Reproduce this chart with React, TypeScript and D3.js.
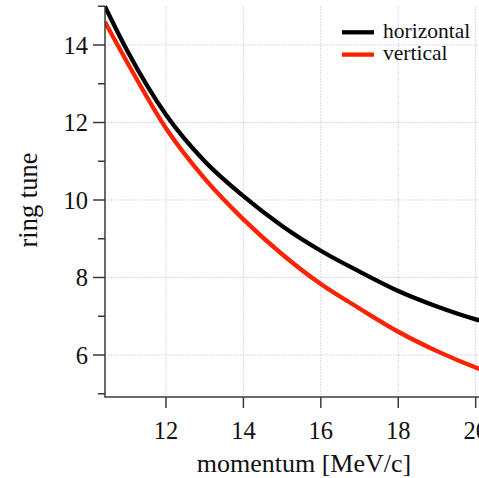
import React from "react";
import * as d3 from "d3";

const momentum = [10.42, 11, 12, 13, 14, 15, 16, 17, 18, 19, 20, 20.3];
const horizontalTune = [15.0, 13.85, 12.2, 11.0, 10.1, 9.33, 8.69, 8.15, 7.65, 7.25, 6.92, 6.84];
const verticalTune = [14.6, 13.55, 11.85, 10.55, 9.5, 8.6, 7.83, 7.2, 6.6, 6.1, 5.68, 5.57];
const xTicks = [12, 14, 16, 18, 20];
const yTicks = [6, 8, 10, 12, 14];
const yMinorTicks = [5, 7, 9, 11, 13, 15];
const seriesNames = ["horizontal", "vertical"];
const seriesColors = ["#000000", "#ff2200"];

const W = 479;
const H = 478;

export default function App() {
  const x = d3.scaleLinear().domain([10.42, 20.3]).range([104.8, 487.3]);
  const y = d3.scaleLinear().domain([4.916, 15.0]).range([397, 6.25]);
  const line = d3
    .line<[number, number]>()
    .x((d) => x(d[0]))
    .y((d) => y(d[1]))
    .curve(d3.curveMonotoneX);
  const series = [horizontalTune, verticalTune];
  const font = "'Liberation Serif', 'Times New Roman', serif";
  const gridColor = "#c9c9ee";
  const axisColor = "#3a3a3a";
  return (
    <svg
      width={W}
      height={H}
      style={{ position: "absolute", left: 0, top: 0, background: "#fff" }}
      fontFamily={font}
    >
      <defs>
        <clipPath id="plotclip">
          <rect x={105} y={0} width={W} height={397} />
        </clipPath>
      </defs>
      {xTicks.map((t) => (
        <line
          key={"gx" + t}
          x1={x(t)}
          x2={x(t)}
          y1={y(15)}
          y2={y(4.916)}
          stroke={gridColor}
          strokeWidth={1}
          strokeDasharray="1.5,1.5"
        />
      ))}
      {yTicks.map((t) => (
        <line
          key={"gy" + t}
          x1={x(10.42)}
          x2={W}
          y1={y(t)}
          y2={y(t)}
          stroke={gridColor}
          strokeWidth={1}
          strokeDasharray="1.5,1.5"
        />
      ))}
      <g clipPath="url(#plotclip)">
        {series.map((s, i) => (
          <path
            key={"s" + i}
            d={line(momentum.map((m, j) => [m, s[j]] as [number, number])) || ""}
            fill="none"
            stroke={seriesColors[i]}
            strokeWidth={4.3}
          />
        ))}
      </g>
      <line x1={105} x2={105} y1={y(15)} y2={397} stroke={axisColor} strokeWidth={1.5} />
      {yTicks.map((t) => (
        <g key={"yt" + t}>
          <line x1={93} x2={105} y1={y(t)} y2={y(t)} stroke={axisColor} strokeWidth={1.5} />
          <text x={88} y={y(t)} dy="0.35em" textAnchor="end" fontSize={24.5} fill="#111">
            {t}
          </text>
        </g>
      ))}
      {yMinorTicks.map((t) => (
        <line key={"ym" + t} x1={98} x2={105} y1={y(t)} y2={y(t)} stroke={axisColor} strokeWidth={1.5} />
      ))}
      <line x1={104.3} x2={W} y1={397} y2={397} stroke={axisColor} strokeWidth={1.5} />
      {xTicks.map((t) => (
        <g key={"xt" + t}>
          <line x1={x(t)} x2={x(t)} y1={397} y2={408} stroke={axisColor} strokeWidth={1.5} />
          <text x={x(t)} y={439} textAnchor="middle" fontSize={24.5} fill="#111">
            {t}
          </text>
        </g>
      ))}
      <text x={304} y={472} textAnchor="middle" fontSize={26} fill="#111">
        momentum [MeV/c]
      </text>
      <text
        transform={`translate(37,200) rotate(-90)`}
        textAnchor="middle"
        fontSize={26.5}
        fill="#111"
      >
        ring tune
      </text>
      {seriesNames.map((n, i) => (
        <g key={"lg" + n}>
          <line
            x1={342}
            x2={374}
            y1={32.3 + i * 22.3}
            y2={32.3 + i * 22.3}
            stroke={seriesColors[i]}
            strokeWidth={4.3}
          />
          <text x={383} y={38 + i * 22.3} fontSize={21.5} fill="#111">
            {n}
          </text>
        </g>
      ))}
    </svg>
  );
}
